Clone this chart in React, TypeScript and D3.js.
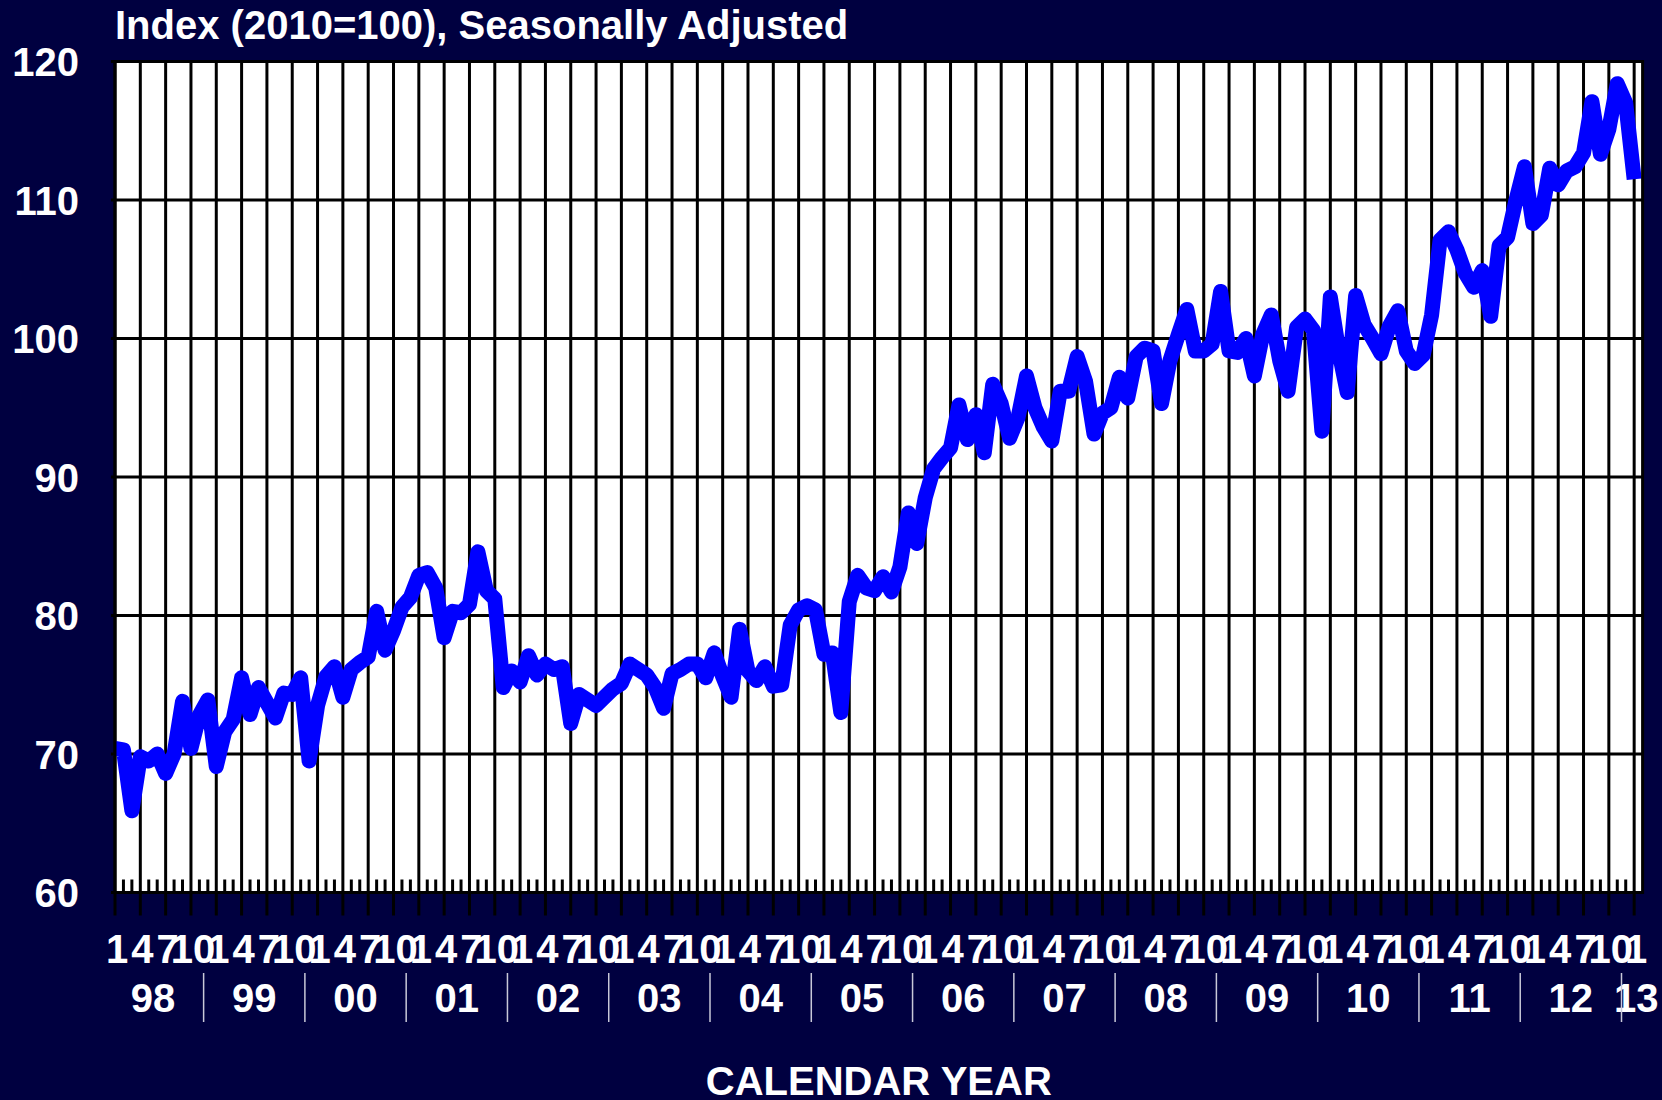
import React from "react";
import * as d3 from "d3";

// Monthly index values, Jan 1998 .. Jan 2013 (2010=100, seasonally adjusted)
const y1998 = [70.4, 70.3, 65.9, 69.8, 69.5, 70.0, 68.6, 70.0, 73.8, 70.4, 72.8, 73.9];
const y1999 = [69.1, 71.6, 72.5, 75.5, 72.85, 74.8, 73.7, 72.6, 74.4, 74.3, 75.5, 69.5];
const y2000 = [73.5, 75.6, 76.3, 74.1, 76.1, 76.6, 77.0, 80.3, 77.5, 78.9, 80.6, 81.3];
const y2001 = [82.9, 83.1, 82.0, 78.4, 80.3, 80.2, 80.8, 84.6, 81.8, 81.2, 74.8, 76.0];
const y2002 = [75.2, 77.1, 75.7, 76.5, 76.1, 76.3, 72.2, 74.3, 73.9, 73.5, 74.1, 74.7];
const y2003 = [75.1, 76.5, 76.1, 75.7, 74.8, 73.3, 75.8, 76.1, 76.5, 76.5, 75.5, 77.3];
const y2004 = [75.6, 74.1, 79.0, 76.0, 75.3, 76.3, 74.9, 75.0, 79.3, 80.4, 80.7, 80.4];
const y2005 = [77.2, 77.3, 73.0, 81.0, 82.9, 82.0, 81.8, 82.8, 81.7, 83.5, 87.4, 85.2];
const y2006 = [88.5, 90.6, 91.4, 92.1, 95.2, 92.7, 94.5, 91.75, 96.7, 95.3, 92.8, 94.3];
const y2007 = [97.3, 95.0, 93.6, 92.6, 96.2, 96.2, 98.7, 96.9, 93.1, 94.6, 95.0, 97.2];
const y2008 = [95.7, 98.7, 99.3, 99.1, 95.3, 98.4, 100.3, 102.1, 99.1, 99.1, 99.6, 103.4];
const y2009 = [99.1, 99.0, 100.0, 97.3, 100.3, 101.7, 98.4, 96.2, 100.8, 101.4, 100.6, 93.3];
const y2010 = [103.0, 99.1, 96.1, 103.1, 101.0, 100.0, 98.9, 100.9, 102.0, 99.1, 98.2, 98.8];
const y2011 = [101.7, 107.1, 107.7, 106.4, 104.7, 103.7, 104.9, 101.6, 106.7, 107.3, 110.0, 112.4];
const y2012 = [108.3, 108.9, 112.3, 111.1, 112.1, 112.4, 113.4, 117.1, 113.3, 115.1, 118.4, 117.0];
const y2013 = [111.5];

const values: number[] = [
  ...y1998, ...y1999, ...y2000, ...y2001, ...y2002, ...y2003, ...y2004, ...y2005,
  ...y2006, ...y2007, ...y2008, ...y2009, ...y2010, ...y2011, ...y2012, ...y2013,
];

const monthLabels = ["1", "4", "7", "10"];
const yearLabels = ["98", "99", "00", "01", "02", "03", "04", "05", "06", "07", "08", "09", "10", "11", "12"];
const lastYearLabel = "13";
const yTicks = [60, 70, 80, 90, 100, 110, 120];
const title = "Index (2010=100), Seasonally Adjusted";
const axisTitle = "CALENDAR YEAR";

const W = 1662;
const H = 1100;
const BG = "#000040";
const FONT = "'Liberation Sans', Arial, Helvetica, sans-serif";

export default function App() {
  const left = 115;
  const right = 1642.6;
  const top = 61.5;
  const bottom = 892.5;
  const nSlots = values.length; // 181 points, axis spans one extra month

  const x = d3.scaleLinear().domain([0, nSlots]).range([left, right]);
  const y = d3.scaleLinear().domain([60, 120]).range([bottom, top]);

  const line = d3
    .line<number>()
    .x((_, i) => x(i))
    .y((d) => y(d));

  const months = d3.range(0, nSlots);
  const majors = months.filter((m) => m % 3 === 0);
  const minors = months.filter((m) => m % 3 !== 0);
  const years = d3.range(0, yearLabels.length);

  return (
    <svg
      width={W}
      height={H}
      style={{ position: "absolute", left: 0, top: 0, display: "block" }}
      fontFamily={FONT}
      fontWeight="bold"
    >
      <rect x={0} y={0} width={W} height={H} fill={BG} />
      <text x={115} y={39} fill="#fff" fontSize={40}>
        {title}
      </text>

      {/* plot area */}
      <rect x={left} y={top} width={right - left} height={bottom - top} fill="#fff" />

      {/* horizontal gridlines */}
      {yTicks.map((t) => (
        <line key={"h" + t} x1={left - 4} x2={right} y1={y(t)} y2={y(t)} stroke="#000" strokeWidth={3} />
      ))}

      {/* vertical gridlines / major ticks */}
      {majors.map((m) => (
        <line key={"v" + m} x1={x(m)} x2={x(m)} y1={top} y2={bottom + 23} stroke="#000" strokeWidth={3} />
      ))}
      {/* minor month ticks */}
      {minors.map((m) => (
        <line key={"n" + m} x1={x(m)} x2={x(m)} y1={bottom - 13} y2={bottom} stroke="#000" strokeWidth={3} />
      ))}

      {/* data line */}
      <path
        d={line(values) || ""}
        fill="none"
        stroke="#0000ff"
        strokeWidth={15}
        strokeLinejoin="round"
        strokeLinecap="butt"
      />

      {/* plot border */}
      <rect x={left} y={top} width={right - left} height={bottom - top} fill="none" stroke="#000" strokeWidth={3} />

      {/* y labels */}
      {yTicks.map((t) => (
        <text key={"yl" + t} x={79} y={y(t) + 14.5} fill="#fff" fontSize={40} textAnchor="end">
          {t}
        </text>
      ))}

      {/* month labels */}
      {majors.map((m) => (
        <text key={"ml" + m} x={x(m) + 2} y={963} fill="#fff" fontSize={40} textAnchor="middle">
          {monthLabels[(m / 3) % 4]}
        </text>
      ))}

      {/* year labels */}
      {years.map((k) => (
        <text key={"yr" + k} x={x(12 * k + 4.5)} y={1012} fill="#fff" fontSize={40} textAnchor="middle">
          {yearLabels[k]}
        </text>
      ))}
      <text x={x(nSlots - 1) + 2} y={1012} fill="#fff" fontSize={40} textAnchor="middle">
        {lastYearLabel}
      </text>

      {/* year separators */}
      {years.map((k) => (
        <line
          key={"sep" + k}
          x1={x(12 * k + 10.5)}
          x2={x(12 * k + 10.5)}
          y1={973}
          y2={1022}
          stroke="#c8c8d8"
          strokeWidth={1.5}
        />
      ))}

      <text x={(left + right) / 2} y={1095} fill="#fff" fontSize={40} textAnchor="middle">
        {axisTitle}
      </text>
    </svg>
  );
}
